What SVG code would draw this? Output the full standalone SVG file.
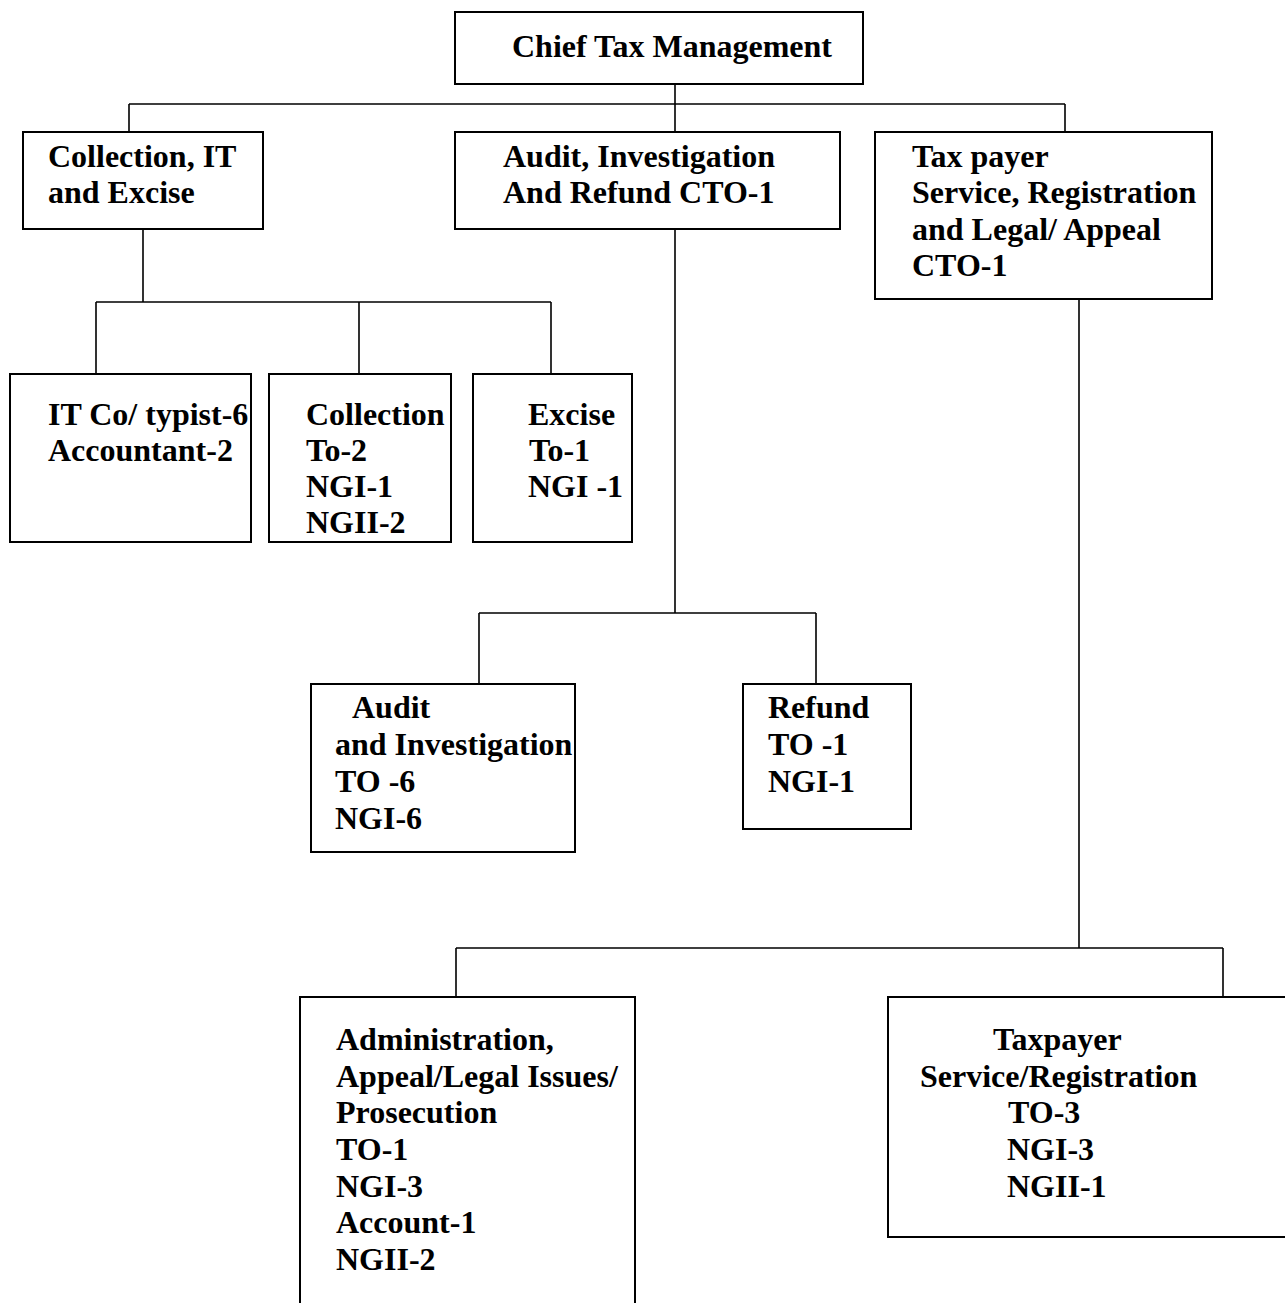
<svg xmlns="http://www.w3.org/2000/svg" width="1285" height="1303" viewBox="0 0 1285 1303">
<style>
.box{fill:#fff;stroke:#000;stroke-width:2}
.t{font-family:"Liberation Serif","Times New Roman",serif;font-weight:bold;font-size:32px;fill:#000}
.c{fill:none;stroke:#000;stroke-width:1.6}
</style>
<rect width="1285" height="1303" fill="#fff"/>
<g id="connectors">
<path class="c" d="M675 84V132M129 104H1065M129 104V132M1065 104V132"/>
<path class="c" d="M143 229V302M96 302H551M96 302V374M359 302V374M551 302V374"/>
<path class="c" d="M675 229V613M479 613H816M479 613V684M816 613V684"/>
<path class="c" d="M1079 299V948M456 948H1223M456 948V997M1223 948V997"/>
</g>
<g id="chief">
<rect class="box" x="455" y="12" width="408" height="72"/>
<text class="t" x="512" y="57">Chief Tax Management</text>
</g>
<g id="collection-it-excise">
<rect class="box" x="23" y="132" width="240" height="97"/>
<text class="t"><tspan x="48" y="167">Collection, IT</tspan><tspan x="48" y="203">and Excise</tspan></text>
</g>
<g id="audit-investigation-refund">
<rect class="box" x="455" y="132" width="385" height="97"/>
<text class="t"><tspan x="503" y="167">Audit, Investigation</tspan><tspan x="503" y="203">And Refund CTO-1</tspan></text>
</g>
<g id="taxpayer-service">
<rect class="box" x="875" y="132" width="337" height="167"/>
<text class="t"><tspan x="912" y="167">Tax payer</tspan><tspan x="912" y="203">Service, Registration</tspan><tspan x="912" y="240">and Legal/ Appeal</tspan><tspan x="912" y="276">CTO-1</tspan></text>
</g>
<g id="it-co">
<rect class="box" x="10" y="374" width="241" height="168"/>
<text class="t"><tspan x="48" y="425">IT Co/ typist-6</tspan><tspan x="48" y="461">Accountant-2</tspan></text>
</g>
<g id="collection">
<rect class="box" x="269" y="374" width="182" height="168"/>
<text class="t"><tspan x="306" y="425">Collection</tspan><tspan x="306" y="461">To-2</tspan><tspan x="306" y="497">NGI-1</tspan><tspan x="306" y="533">NGII-2</tspan></text>
</g>
<g id="excise">
<rect class="box" x="473" y="374" width="159" height="168"/>
<text class="t"><tspan x="528" y="425">Excise</tspan><tspan x="529" y="461">To-1</tspan><tspan x="528" y="497">NGI -1</tspan></text>
</g>
<g id="audit-and-investigation">
<rect class="box" x="311" y="684" width="264" height="168"/>
<text class="t"><tspan x="352" y="718">Audit</tspan><tspan x="335" y="755">and Investigation</tspan><tspan x="335" y="792">TO -6</tspan><tspan x="335" y="829">NGI-6</tspan></text>
</g>
<g id="refund">
<rect class="box" x="743" y="684" width="168" height="145"/>
<text class="t"><tspan x="768" y="718">Refund</tspan><tspan x="768" y="755">TO -1</tspan><tspan x="768" y="792">NGI-1</tspan></text>
</g>
<g id="administration">
<rect class="box" x="300" y="997" width="335" height="320"/>
<text class="t"><tspan x="336" y="1050">Administration,</tspan><tspan x="336" y="1087">Appeal/Legal Issues/</tspan><tspan x="336" y="1123">Prosecution</tspan><tspan x="336" y="1160">TO-1</tspan><tspan x="336" y="1197">NGI-3</tspan><tspan x="336" y="1233">Account-1</tspan><tspan x="336" y="1270">NGII-2</tspan></text>
</g>
<g id="taxpayer-registration">
<rect class="box" x="888" y="997" width="410" height="240"/>
<text class="t"><tspan x="993" y="1050">Taxpayer</tspan><tspan x="920" y="1087">Service/Registration</tspan><tspan x="1008" y="1123">TO-3</tspan><tspan x="1007" y="1160">NGI-3</tspan><tspan x="1007" y="1197">NGII-1</tspan></text>
</g>
</svg>
